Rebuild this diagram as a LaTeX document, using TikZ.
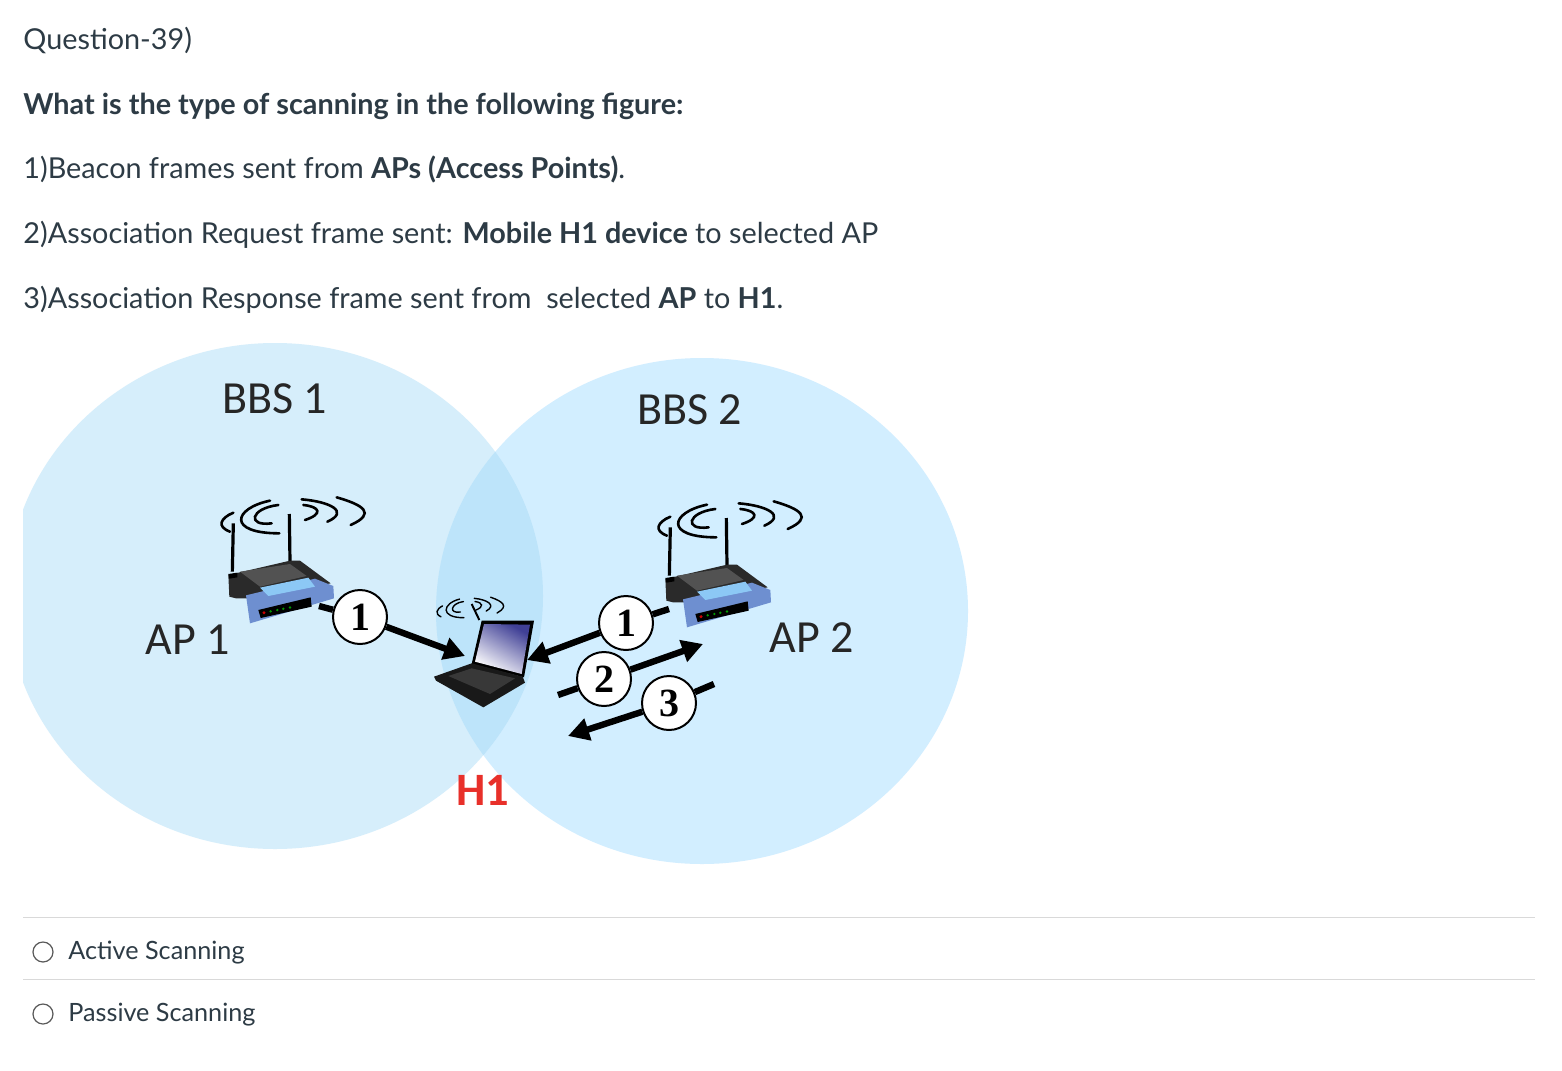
\documentclass[tikz,border=0pt]{standalone}
\usepackage{fontspec}
\setmainfont{Lato}
\newfontfamily\calfam{Carlito}
\newfontfamily\numf{Liberation Serif}
\usetikzlibrary{arrows.meta}
\definecolor{bssa}{HTML}{D6EEFB}
\definecolor{bssb}{HTML}{D2EEFF}
\definecolor{bssc}{HTML}{BDE4FA}
\definecolor{txt}{HTML}{2D3B45}
\definecolor{rblue}{HTML}{6E8FD0}
\definecolor{rdark}{HTML}{2A2A2A}
\definecolor{rpanel}{HTML}{8CC8F5}
\definecolor{hred}{HTML}{E8302A}
\newcommand{\wavedraw}[1]{%
  \draw[line width=#1,black,line cap=round]
      (100,68) .. controls (60,85) and (50,110) .. (90,125)
      (210,32) .. controls (100,55) and (80,130) .. (238,130)
      (235,45) .. controls (150,55) and (140,110) .. (215,100)
      (305,28) .. controls (390,35) and (450,65) .. (382,95)
      (310,45) .. controls (360,50) and (370,72) .. (315,90)
      (410,22) .. controls (490,45) and (530,70) .. (452,105);}
\tikzset{
  line/.style={anchor=base west,inner sep=0pt,text=txt,font=\fontsize{14.4pt}{17pt}\selectfont},
  opt/.style={anchor=base west,inner sep=0pt,text=txt,font=\fontsize{12.6pt}{15pt}\selectfont},
  big/.style={anchor=base west,inner sep=0pt,text=black!85,font=\calfam\fontsize{23pt}{26pt}\selectfont},
  num/.style={circle,draw=black,line width=1pt,fill=white,minimum size=27pt,inner sep=0pt,font=\numf\bfseries\fontsize{20pt}{22pt}\selectfont},
  conn/.style={line width=3.2pt,black},
  arr/.style={conn,-{Triangle[length=10.5pt,width=11pt]}},
  radio/.style={circle,draw=black!65,line width=.6pt,minimum size=10pt,inner sep=0pt},
  rule/.style={draw=black!15,line width=.5pt},
  smallwaves/.pic={\wavedraw{.7pt}},
  router/.pic={
    \wavedraw{1.3pt}
    \draw[line width=1.6pt,black] (97,245) -- (100,100);
    \draw[line width=1.6pt,black] (270,215) -- (268,72);
    \fill[rdark] (85,255) -- (270,212) -- (300,212) -- (392,280) -- (140,325) -- (108,325) -- (88,320) -- cycle;
    \fill[black!68] (120,245) -- (270,222) -- (320,258) -- (180,290) -- cycle;
    \fill[black] (85,252) -- (112,248) -- (112,262) -- (88,266) -- cycle;
    \fill[rblue] (138,316) -- (345,266) -- (400,288) -- (402,325) -- (150,400) -- cycle;
    \fill[rpanel] (180,293) -- (325,263) -- (345,290) -- (205,318) -- cycle;
    \fill[black] (175,360) -- (332,322) -- (335,350) -- (182,384) -- cycle;
    \fill[red!80!black] (192,368) circle (5);
    \foreach \q in {212,232,250,270}{\fill[green!60!black] (\q,{368-(\q-192)*.2}) circle (4);}
  },
  laptop/.pic={
    \fill[black] (845,392) -- (1002,392) -- (972,562) -- (815,522) -- cycle;
    \shade[left color=blue!45!black!75!white,middle color=white,right color=white,shading angle=-30] (852,402) -- (990,404) -- (965,552) -- (825,515) -- cycle;
    \fill[black!90] (815,520) -- (702,560) -- (708,572) -- (850,652) -- (975,578) -- (968,560) -- cycle;
    \fill[black!78] (815,535) -- (745,558) -- (870,612) -- (945,565) -- cycle;
    \draw[line width=1pt,black] (838,390) -- (815,342);
  }
}
\begin{document}
\begin{tikzpicture}[x=.5pt,y=-.5pt]
\useasboundingbox (0,0) rectangle (1562,1070);
\fill[white] (0,0) rectangle (1562,1070);
% coverage areas
\begin{scope}
  \clip (23,0) rectangle (1562,1070);
  \fill[bssa] (275,596) ellipse [x radius=268,y radius=253];
\end{scope}
\fill[bssb] (702,611) ellipse [x radius=266,y radius=253];
\begin{scope}
  \clip (275,596) ellipse [x radius=268,y radius=253];
  \fill[bssc] (702,611) ellipse [x radius=266,y radius=253];
\end{scope}
% question text
\node[line] (q0) at (23,50) {Question-39)};
\node[line] (q1) at (23,114) {\textbf{What is the type of scanning in the following figure:}};
\node[line] (q2) at (23,178) {1)Beacon frames sent from \textbf{APs (Access Points)}.};
\node[line] (q3) at (23,243) {2)Association Request frame sent: \textbf{Mobile H1 device} to selected AP};
\node[line] (q4) at (23,308) {3)Association Response frame sent from\ \ selected \textbf{AP} to \textbf{H1}.};
% labels
\node[big] (b1) at (222,413) {BBS 1};
\node[big] (b2) at (637,424) {BBS 2};
\node[big] (a1) at (145,654) {AP 1};
\node[big] (a2) at (769,652) {AP 2};
\node[big,text=hred,font=\calfam\bfseries\fontsize{23.2pt}{26pt}\selectfont] (h1) at (456,805) {H1};
% devices
\pic[scale=1/3] at (200,490) {router};
\pic[scale=1/3] at (637,494) {router};
\pic[scale=1/3] at (200,490) {laptop};
\pic[xscale=.155,yscale=.19] at (427,593) {smallwaves};
% exchange
\coordinate (r1) at (319,606);
\coordinate (l1) at (465,656);
\coordinate (r2) at (669,609);
\coordinate (l2) at (527,660);
\coordinate (s2) at (558,695);
\coordinate (e2) at (703,644);
\coordinate (s3) at (714,684);
\coordinate (e3) at (568,736);
\node[num] (n1) at (360,617) {1};
\node[num] (n1b) at (626,623) {1};
\node[num] (n2) at (604,679) {2};
\node[num] (n3) at (669,703) {3};
\draw[conn] (r1) -- (n1);
\draw[arr] (n1) -- (l1);
\draw[conn] (r2) -- (n1b);
\draw[arr] (n1b) -- (l2);
\draw[conn] (s2) -- (n2);
\draw[arr] (n2) -- (e2);
\draw[conn] (s3) -- (n3);
\draw[arr] (n3) -- (e3);
% answers
\coordinate (ra) at (23,917);
\coordinate (rb) at (1535,917);
\coordinate (rc) at (23,979);
\coordinate (rd) at (1535,979);
\draw[rule] (ra) -- (rb);
\draw[rule] (rc) -- (rd);
\node[radio] (o1) at (43,952) {};
\node[radio] (o2) at (43,1014) {};
\node[opt] (t1) at (68,959) {Active Scanning};
\node[opt] (t2) at (68,1021) {Passive Scanning};
\end{tikzpicture}
\end{document}
